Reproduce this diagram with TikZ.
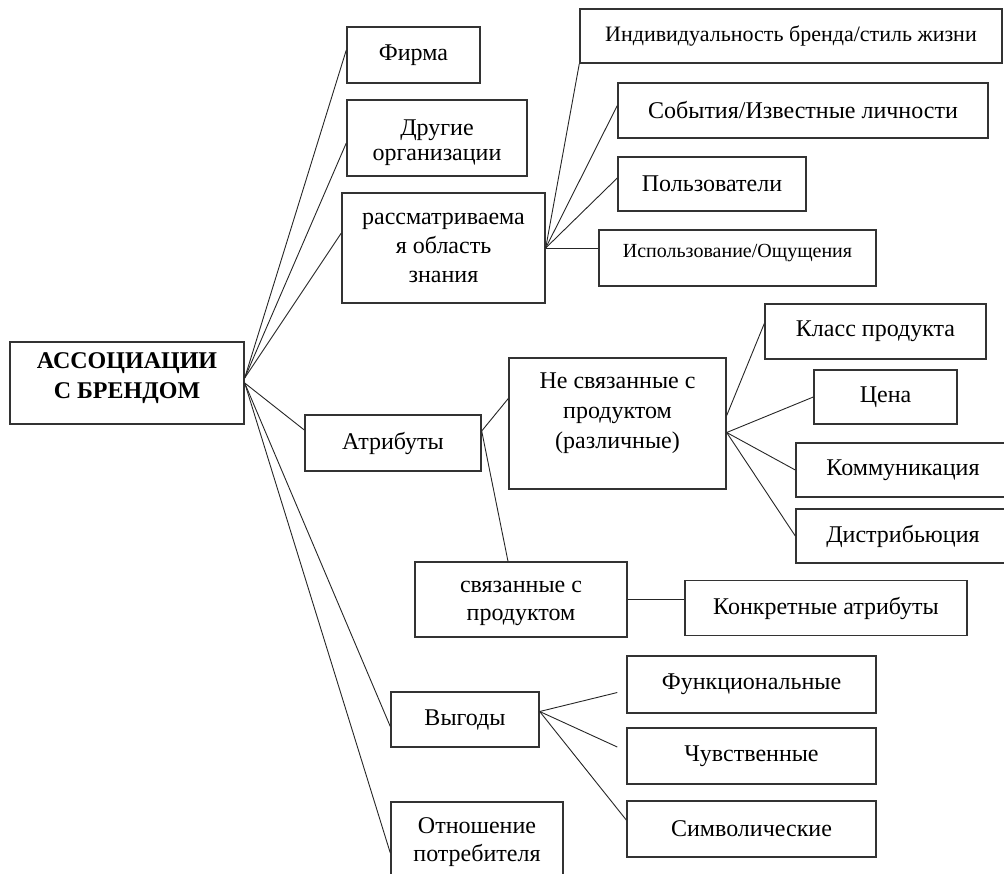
\documentclass[tikz,border=0pt]{standalone}
\usepackage{fontspec}
\setmainfont{Liberation Serif}
\usepackage{tikz}
\usetikzlibrary{positioning,calc}
\tikzset{
  assoc/.style={rectangle,draw=black!80,line width=1.4pt,inner sep=1pt,align=center,
    font=\fontsize{24}{28}\selectfont},
  smallassoc/.style={assoc,font=\fontsize{20}{24}\selectfont},
  link/.style={draw=black!85,line width=0.9pt}
}

\begin{document}
\begin{tikzpicture}[x=1pt, y=-1pt]
            \useasboundingbox (0,0) rectangle (1004,873);
            \clip (0,0) rectangle (1004,873);
            % centre
            \node[assoc,minimum width=234,minimum height=82,text depth=14pt,font=\fontsize{24}{30}\selectfont\bfseries] (root) at (127,383) {АССОЦИАЦИИ\\С БРЕНДОМ};
            % first level
            \node[assoc,minimum width=133,minimum height=56] (firm) at (413.5,55) {Фирма};
            \node[assoc,minimum width=180,minimum height=76,text height=51pt,font=\fontsize{24}{25}\selectfont] (other) at (437,138) {Другие\\организации};
            \node[assoc,minimum width=203,minimum height=110,font=\fontsize{24}{29}\selectfont] (area) at (443.5,248) {рассматриваема\\я область\\знания};
            \node[assoc,minimum width=176,minimum height=56] (attr) at (393,443) {Атрибуты};
            \node[assoc,minimum width=148,minimum height=55] (benef) at (465,719.5) {Выгоды};
            \node[assoc,minimum width=172,minimum height=80] (attit) at (477,842) {Отношение\\потребителя};
            % area of knowledge
            \node[assoc,minimum width=422,minimum height=54,font=\fontsize{22}{28}\selectfont] (indiv) at (791,36) {Индивидуальность бренда/стиль жизни};
            \node[assoc,minimum width=370,minimum height=55] (events) at (803,110.5) {События/Известные личности};
            \node[assoc,minimum width=188,minimum height=54] (users) at (712,184) {Пользователи};
            \node[smallassoc,minimum width=277,minimum height=56,text depth=14pt] (usage) at (737.5,258) {Использование/Ощущения};
            % attributes
            \node[assoc,minimum width=217,minimum height=131,text depth=25pt,font=\fontsize{24}{30}\selectfont] (unrel) at (617.5,423.5) {Не связанные с\\продуктом\\(различные)};
            \node[assoc,minimum width=221,minimum height=55] (cls) at (875.5,331.5) {Класс продукта};
            \node[assoc,minimum width=143,minimum height=54] (price) at (885.5,397) {Цена};
            \node[assoc,minimum width=214,minimum height=54] (comm) at (903,470) {Коммуникация};
            \node[assoc,minimum width=214,minimum height=54] (distr) at (903,536) {Дистрибьюция};
            \node[assoc,minimum width=212,minimum height=75,text height=47pt] (rel) at (521,599.5) {связанные с\\продуктом};
            \node[assoc,minimum width=282,minimum height=55] (concrete) at (826,608) {Конкретные атрибуты};
            % benefits
            \node[assoc,minimum width=249,minimum height=57] (func) at (751.5,684.5) {Функциональные};
            \node[assoc,minimum width=249,minimum height=56] (sens) at (751.5,756) {Чувственные};
            \node[assoc,minimum width=249,minimum height=56] (symb) at (751.5,829) {Символические};

            \coordinate (rh) at ($(root.east)+(0,-5)$);
            \draw[link] (rh) -- ($(firm.west)+(0,-5)$);
            \draw[link] (rh) -- ($(other.west)+(0,5)$);
            \draw[link] (rh) -- ($(area.west)+(0,-15)$);
            \draw[link] (root.east) -- ($(attr.west)+(0,-13)$);
            \draw[link] (root.east) -- ($(benef.west)+(0,7)$);
            \draw[link] (root.east) -- ($(attit.west)+(0,11)$);

            \draw[link] (area.east) -- (indiv.south west);
            \draw[link] (area.east) -- ($(events.west)+(0,-5)$);
            \draw[link] (area.east) -- ($(users.west)+(0,-6)$);
            \draw[link] (area.east) -- (area.east -| usage.west);

            \coordinate (ah) at ($(attr.east)+(0,-12)$);
            \draw[link] (ah) -- ($(unrel.west)+(0,-25)$);
            \draw[link] (ah) -- ($(rel.north)+(-13,0)$);
            \draw[link] ($(unrel.east)+(0,-8)$) -- ($(cls.west)+(0,-8)$);
            \coordinate (uh) at ($(unrel.east)+(0,9)$);
            \draw[link] (uh) -- (price.west);
            \draw[link] (uh) -- (comm.west);
            \draw[link] (uh) -- (distr.west);
            \draw[link] (rel.east) -- (rel.east -| concrete.west);

            \coordinate (bh) at ($(benef.east)+(0,-8)$);
            \draw[link] (bh) -- ($(func.west)+(-9,8)$);
            \draw[link] (bh) -- ($(sens.west)+(-9,-9)$);
            \draw[link] (bh) -- ($(symb.west)+(0,-9)$);
        \end{tikzpicture}
\end{document}
